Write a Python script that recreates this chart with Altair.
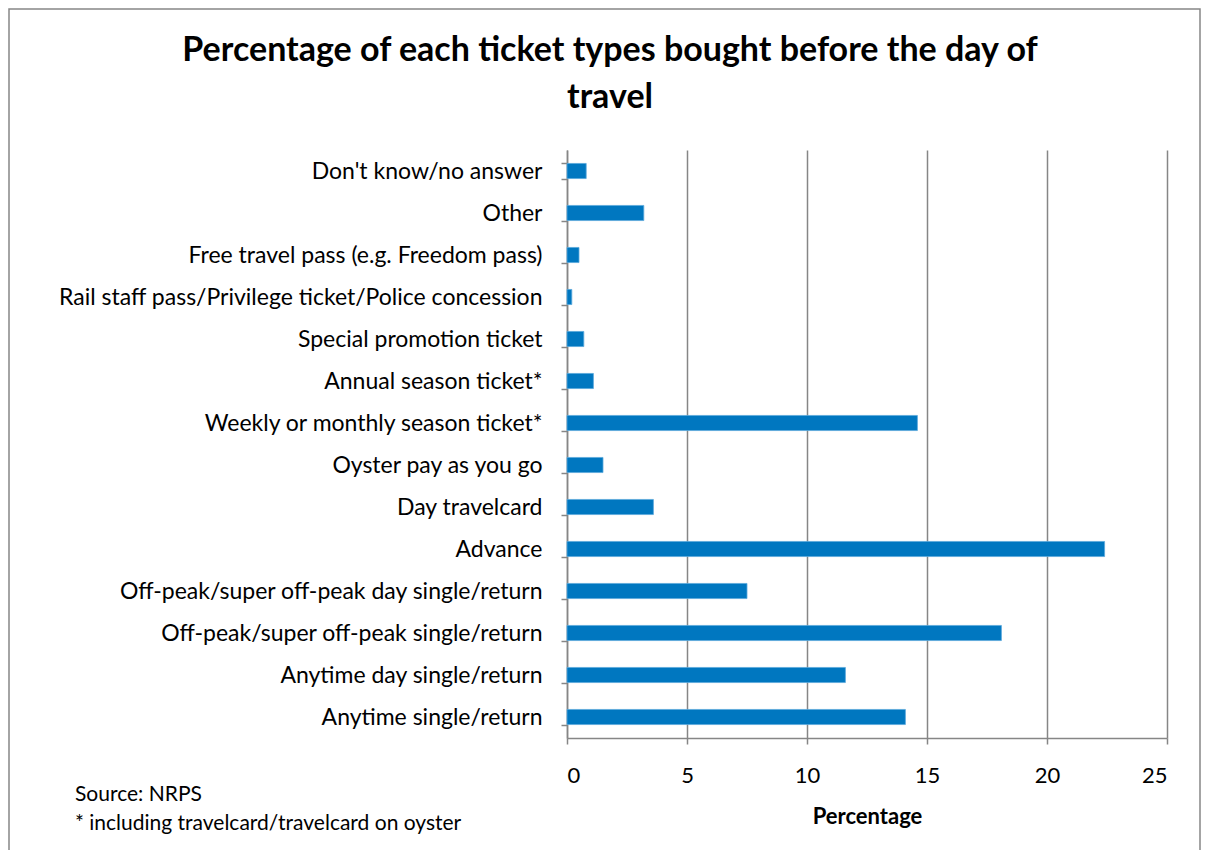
import altair as alt
import pandas as pd

categories = [
    "Don't know/no answer",
    "Other",
    "Free travel pass (e.g. Freedom pass)",
    "Rail staff pass/Privilege ticket/Police concession",
    "Special promotion ticket",
    "Annual season ticket*",
    "Weekly or monthly season ticket*",
    "Oyster pay as you go",
    "Day travelcard",
    "Advance",
    "Off-peak/super off-peak day single/return",
    "Off-peak/super off-peak single/return",
    "Anytime day single/return",
    "Anytime single/return",
]
values = [0.8, 3.2, 0.5, 0.2, 0.7, 1.1, 14.6, 1.5, 3.6, 22.4, 7.5, 18.1, 11.6, 14.1]
x_ticks = [0, 5, 10, 15, 20, 25]
title_lines = ["Percentage of each ticket types bought before the day of", "travel"]
footnotes = ["Source: NRPS", "* including travelcard/travelcard on oyster"]

FONT = "Lato"
GREY = "#868686"

df = pd.DataFrame({"category": categories, "value": values})

bars = alt.Chart(df).mark_bar(color="#0077c0", stroke="#5ba8dc", strokeWidth=0.8).encode(
    x=alt.X(
        "value:Q",
        scale=alt.Scale(domain=[0, 25], nice=False),
        axis=alt.Axis(
            values=x_ticks,
            title="Percentage",
            titleFont=FONT,
            titleFontSize=22,
            titleFontWeight="bold",
            titleColor="black",
            titlePadding=20,
            labelFont=FONT,
            labelFontSize=22,
            labelColor="black",
            labelPadding=21,
            grid=True,
            gridColor=GREY,
            gridWidth=1.5,
            domainColor=GREY,
            domainWidth=1.5,
            tickColor=GREY,
            tickWidth=1.5,
            tickSize=6,
        ),
    ),
    y=alt.Y(
        "category:N",
        sort=categories,
        scale=alt.Scale(paddingInner=0.64, paddingOuter=0.32),
        axis=alt.Axis(
            title=None,
            labelFont=FONT,
            labelFontSize=23,
            labelColor="black",
            labelPadding=19,
            labelLimit=600,
            tickBand="extent",
            tickColor=GREY,
            tickWidth=1.5,
            tickSize=6,
            domainColor=GREY,
            domainWidth=1.5,
            grid=False,
        ),
    ),
)

border = alt.Chart(pd.DataFrame({"a": [0]})).mark_rect(
    fill=None, stroke=GREY, strokeWidth=1.5
).encode(
    x=alt.value(-558), x2=alt.value(633), y=alt.value(-141), y2=alt.value(760)
)


def text_layer(txt, x, y, size, weight="normal", align="left"):
    return alt.Chart(pd.DataFrame({"t": [txt]})).mark_text(
        font=FONT, fontSize=size, fontWeight=weight, align=align,
        baseline="middle", color="black"
    ).encode(text="t:N", x=alt.value(x), y=alt.value(y))


title1 = text_layer(title_lines[0], 43, -99, 34, "bold", "center")
title2 = text_layer(title_lines[1], 43, -52, 34, "bold", "center")
fn1 = text_layer(footnotes[0], -492, 645, 21)
fn2 = text_layer(footnotes[1], -492, 674, 21)

chart = alt.layer(border, bars, title1, title2, fn1, fn2).properties(
    width=600,
    height=588,
    padding={"left": 559, "top": 142, "right": 35, "bottom": 112},
    autosize=alt.AutoSizeParams(type="none"),
).configure_view(stroke=None)

chart.save("out.html", embed_options={"renderer": "svg", "actions": False})
